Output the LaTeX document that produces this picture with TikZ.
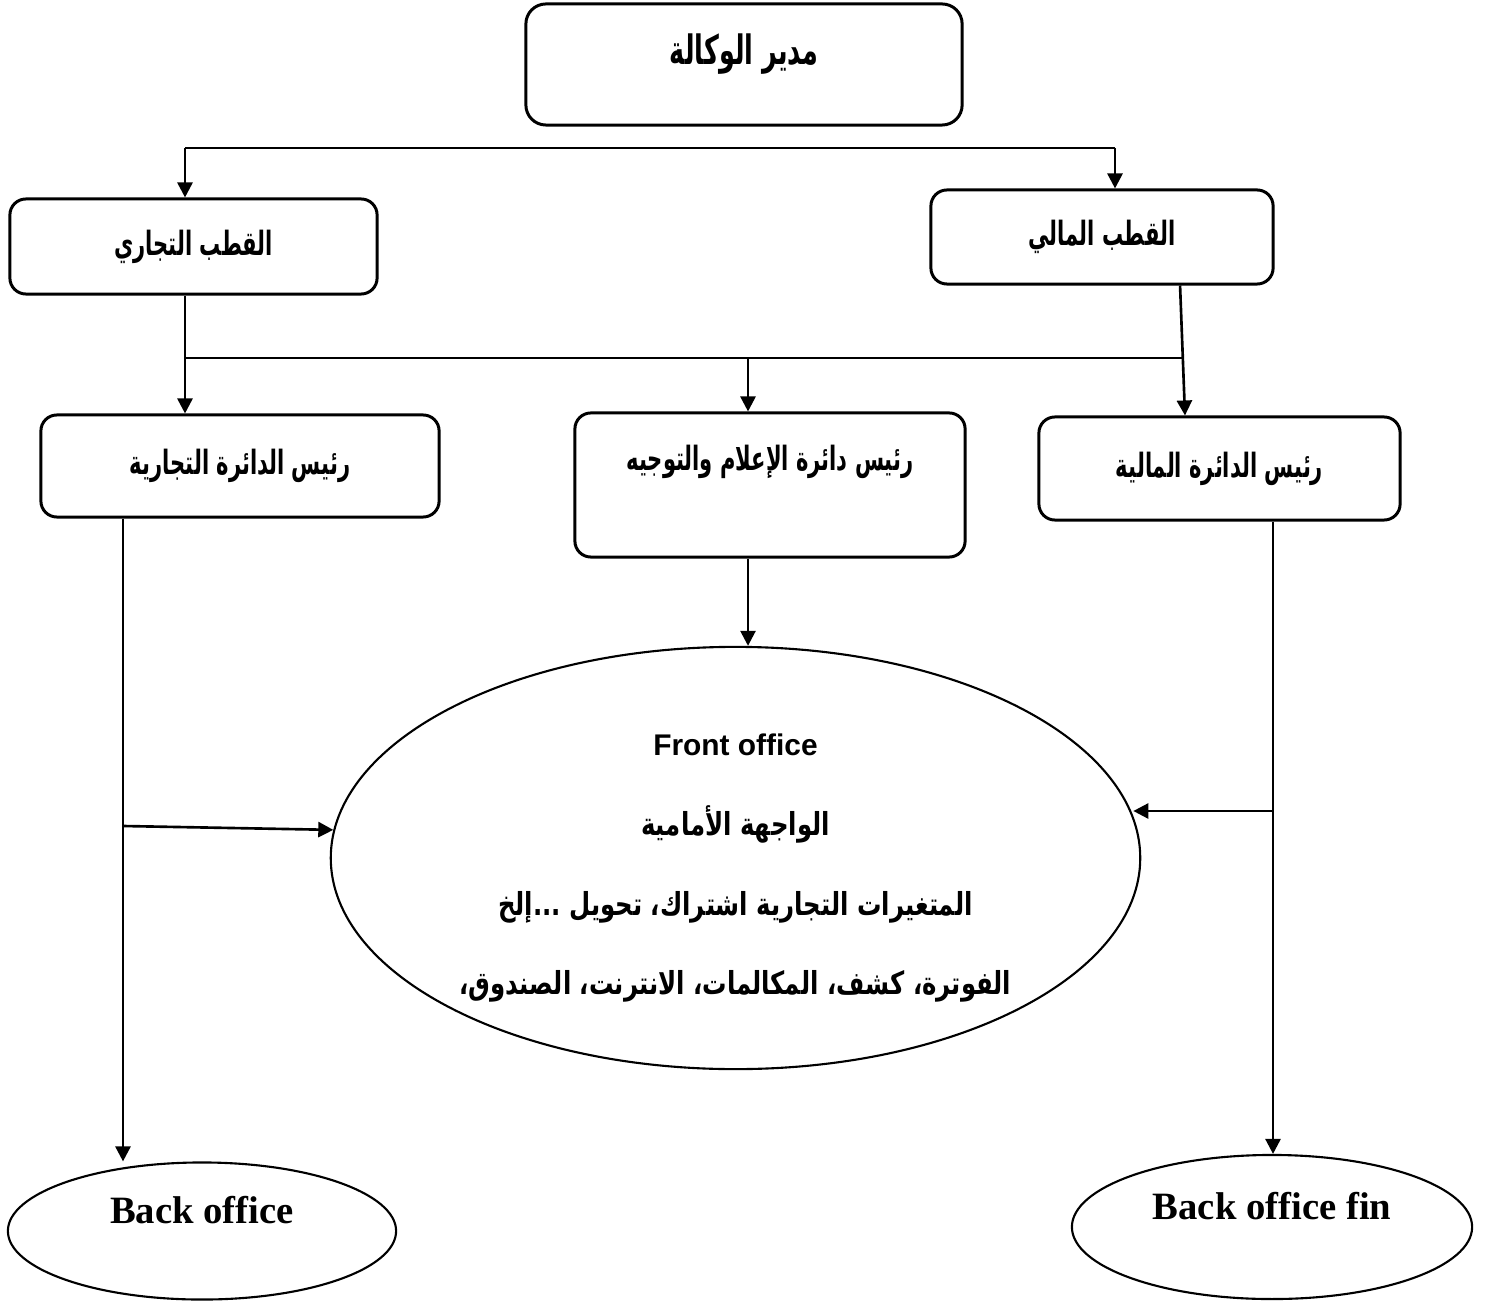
\documentclass[tikz,border=0pt]{standalone}
\usepackage{fontspec}
\setmainfont{Liberation Serif}
\newfontfamily\arabicfont[Script=Arabic, FakeStretch=0.63]{DejaVu Sans}
\newfontfamily\ovalarabic[Script=Arabic, FakeStretch=0.77]{DejaVu Sans}
\newfontfamily\headsans{Liberation Sans}
\TeXXeTstate=1
\usetikzlibrary{arrows.meta,shapes.geometric}
\newcommand{\artext}[1]{{\arabicfont\bfseries\beginR #1\endR}}
\newcommand{\ovaltext}[1]{{\ovalarabic\bfseries\beginR #1\endR}}

\begin{document}
\begin{tikzpicture}[x=0.01cm, y=-0.01cm, >={Triangle[length=0.15cm,width=0.15cm]},
  unit/.style={draw, rectangle, rounded corners=0.16cm, line width=0.85pt, inner sep=0pt, font=\fontsize{9.5}{12}\selectfont},
  office/.style={draw, ellipse, line width=0.6pt, inner sep=0pt, align=center},
  link/.style={->, line width=0.75pt},
  bus/.style={line width=0.45pt}]
\useasboundingbox (0,0) rectangle (1486,1301);

\node[unit, minimum width=4.36cm, minimum height=1.21cm, rounded corners=0.2cm, font=\fontsize{11.5}{14}\selectfont, text depth=0.3cm] (dir) at (744,64.5) {\artext{مدير الوكالة}};
\node[unit, minimum width=3.67cm, minimum height=0.95cm] (pcom) at (193.5,246.5) {\artext{القطب التجاري}};
\node[unit, minimum width=3.42cm, minimum height=0.94cm] (pfin) at (1102,237) {\artext{القطب المالي}};
\node[unit, minimum width=3.98cm, minimum height=1.02cm] (hcom) at (240,466) {\artext{رئيس الدائرة التجارية}};
\node[unit, minimum width=3.90cm, minimum height=1.44cm, text depth=0.55cm] (hinfo) at (770,485) {\artext{رئيس دائرة الإعلام والتوجيه}};
\node[unit, minimum width=3.61cm, minimum height=1.03cm] (hfin) at (1219.5,468.5) {\artext{رئيس الدائرة المالية}};

\node[office, minimum width=8.09cm, minimum height=4.22cm, font=\fontsize{9}{22.7}\selectfont] (front) at (735.5,858)
  {\rule{0pt}{0.42cm}{\headsans\bfseries\fontsize{8.5}{10}\selectfont Front office}\\ \ovaltext{الواجهة الأمامية}\\ \ovaltext{المتغيرات التجارية اشتراك، تحويل ...إلخ}\\ \ovaltext{الفوترة، كشف، المكالمات، الانترنت، الصندوق،}};
\node[office, minimum width=3.88cm, minimum height=1.37cm, font=\fontsize{11}{13}\selectfont\bfseries, text depth=0.42cm] (back) at (202,1231) {Back office};
\node[office, minimum width=4.00cm, minimum height=1.44cm, font=\fontsize{11}{13}\selectfont\bfseries, text depth=0.42cm] (backfin) at (1272,1227) {Back office fin};

\coordinate (topL) at (185,148);
\coordinate (topR) at (1115,148);
\coordinate (midL) at (185,358);
\coordinate (midC) at (748,358);
\coordinate (midR) at (1182,358);
\coordinate (sideL) at (123,826);
\coordinate (sideR) at (1273,811);

\draw[bus] (topL) -- (topR);
\draw[link] (topL) -- (topL |- pcom.north);
\draw[link] (topR) -- (topR |- pfin.north);
\draw[bus] (midL) -- (midR);
\draw[link] (midL |- pcom.south) -- (midL |- hcom.north);
\draw[link] (midC) -- (midC |- hinfo.north);
\draw[link] ([xshift=0.78cm]pfin.south) -- ([xshift=-0.345cm]hfin.north);
\draw[link] (midC |- hinfo.south) -- (midC |- front.north);
\draw[link] (sideL |- hcom.south) -- (sideL |- back.north);
\draw[link] (sideL) -- (front.176);
\draw[link] (sideR |- hfin.south) -- (sideR |- backfin.north);
\draw[link] (sideR) -- (sideR -| front.6.8);
\end{tikzpicture}
\end{document}
